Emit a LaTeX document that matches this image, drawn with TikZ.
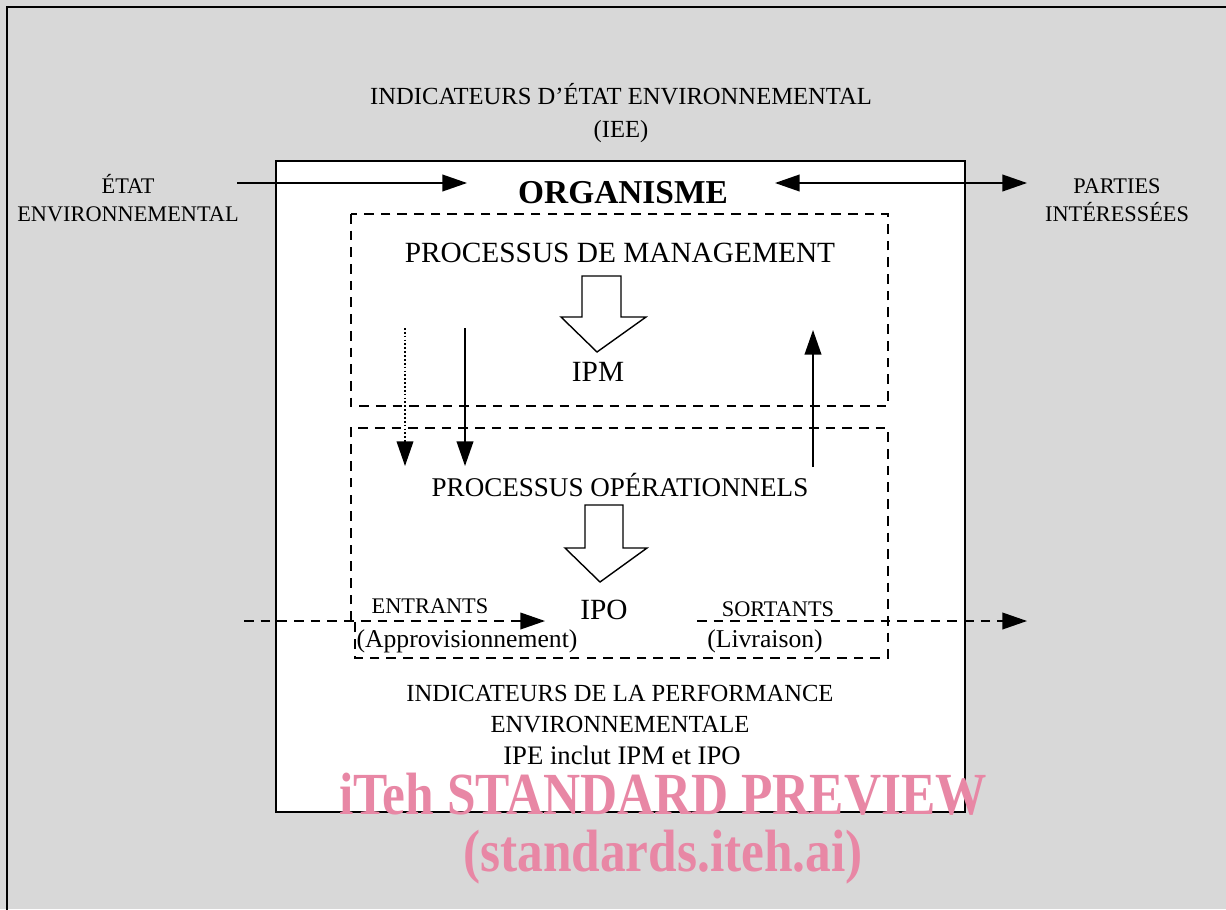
\documentclass[tikz,border=0pt]{standalone}
\usepackage{fontspec}
\setmainfont{Liberation Serif}
\usetikzlibrary{arrows.meta}
\definecolor{fond}{RGB}{216,216,216}
\definecolor{rose}{RGB}{232,135,165}

\begin{document}
\begin{tikzpicture}[x=0.02cm,y=-0.02cm,
  txt/.style={inner sep=0pt,anchor=base},
  petit/.style={txt,font=\fontsize{12.7}{15}\selectfont},
  moyen/.style={txt,font=\fontsize{14}{17}\selectfont},
  grand/.style={txt,font=\fontsize{16.7}{20}\selectfont},
  filigrane/.style={txt,text=rose,xscale=0.86,font=\fontsize{34}{40}\selectfont\bfseries},
  pointe/.tip={Triangle[length=14pt,width=9.5pt]},
  fleche/.style={-pointe,line width=0.9pt},
  tirets/.style={dash pattern=on 5.5pt off 4pt,line width=0.8pt},
  bloc/.style={line width=0.8pt,fill=white,line join=miter}]

  \useasboundingbox (0,0) rectangle (1226,909);
  \fill[fond] (0,0) rectangle (1226,909);
  \draw[line width=1pt] (7,915) -- (7,7) -- (1232,7);

  % organisme
  \draw[line width=1.4pt,fill=white] (276,161) rectangle (965,812);
  \draw[tirets] (351,214) rectangle (888,406);
  \draw[tirets] (351,621) -- (351,428) -- (888,428) -- (888,658) -- (355,658) -- (355,621);

  % textes
  \node[moyen] (iee1) at (621,105) {INDICATEURS D’ÉTAT ENVIRONNEMENTAL};
  \node[moyen] (iee2) at (621,137) {(IEE)};
  \node[petit] (etat1) at (128,193) {ÉTAT};
  \node[petit] (etat2) at (128,221) {ENVIRONNEMENTAL};
  \node[petit] (pi1) at (1117,193) {PARTIES};
  \node[petit] (pi2) at (1117,221) {INTÉRESSÉES};
  \node[txt,font=\fontsize{19}{23}\selectfont\bfseries] (org) at (623,203) {ORGANISME};
  \node[grand] (pm) at (620,262) {PROCESSUS DE MANAGEMENT};
  \node[grand] (ipm) at (598,381) {IPM};
  \node[txt,font=\fontsize{15.4}{18}\selectfont] (po) at (620,496) {PROCESSUS OPÉRATIONNELS};
  \node[grand] (ipo) at (604,619) {IPO};
  \node[petit] (ent) at (430,613) {ENTRANTS};
  \node[petit,font=\fontsize{14.6}{17}\selectfont] (appro) at (467,647) {(Approvisionnement)};
  \node[petit] (sor) at (778,616) {SORTANTS};
  \node[petit,font=\fontsize{14.6}{17}\selectfont] (livr) at (765,647) {(Livraison)};
  \node[moyen] (ipe1) at (620,701) {INDICATEURS DE LA PERFORMANCE};
  \node[moyen] (ipe2) at (620,732) {ENVIRONNEMENTALE};
  \node[moyen,font=\fontsize{15.2}{18}\selectfont] (ipe3) at (622,764) {IPE inclut IPM et IPO};

  % fleches
  \coordinate (etat-e) at (237,183);
  \coordinate (org-w) at (467,183);
  \coordinate (org-e) at (775,183);
  \coordinate (pi-w) at (1027,183);
  \draw[fleche] (etat-e) -- (org-w);
  \draw[pointe-pointe,line width=0.9pt] (org-e) -- (pi-w);

  \coordinate (d1) at (405,328);
  \coordinate (d2) at (465,328);
  \coordinate (u1) at (813,467);
  \draw[fleche,line width=0.7pt,dash pattern=on 1pt off 1.2pt] (d1) -- (d1 |- 0,466);
  \draw[fleche] (d2) -- (d2 |- 0,466);
  \draw[fleche] (u1) -- (u1 |- 0,330);

  \coordinate (in-w) at (244,621);
  \coordinate (in-e) at (545,621);
  \coordinate (out-w) at (697,621);
  \coordinate (out-e) at (1027,621);
  \draw[fleche,tirets] (in-w) -- (in-e);
  \draw[fleche,tirets] (out-w) -- (out-e);

  % grosses fleches
  \draw[bloc] (582,276) -- (621,276) -- (621,317) -- (646,317) -- (597,352) -- (561,317) -- (582,317) -- cycle;
  \draw[bloc] (585,505) -- (623,505) -- (623,548) -- (647,548) -- (600,582) -- (565,548) -- (585,548) -- cycle;

  % filigrane
  \node[filigrane] (wm1) at (663,814) {iTeh STANDARD PREVIEW};
  \node[filigrane] (wm2) at (663,871) {(standards.iteh.ai)};
\end{tikzpicture}
\end{document}
